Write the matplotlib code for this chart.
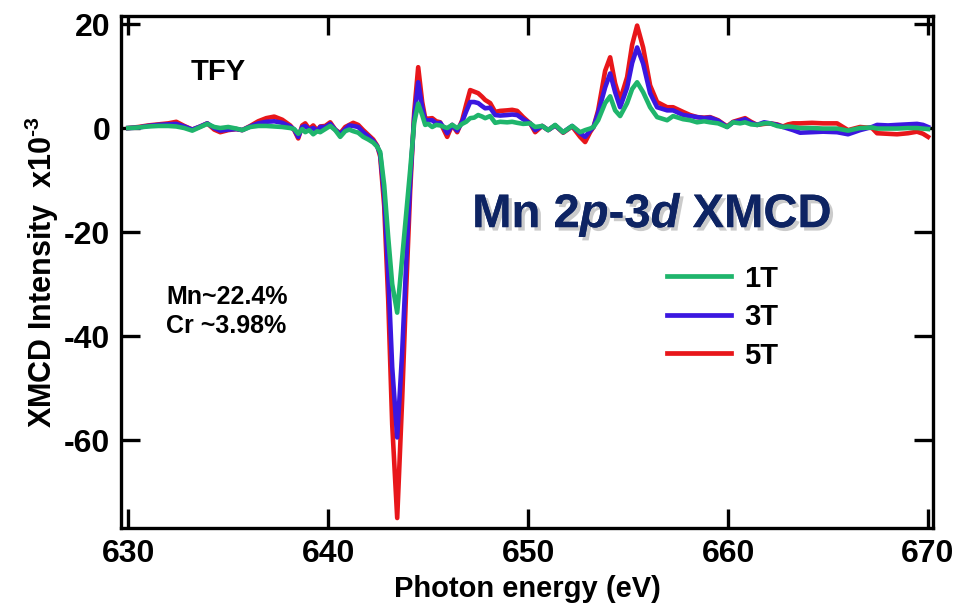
import matplotlib
matplotlib.use("Agg")
import matplotlib.pyplot as plt
import matplotlib.patheffects as pe
import numpy as np

plt.rcParams['font.family'] = ['Liberation Sans', 'DejaVu Sans']
plt.rcParams['font.weight'] = 'bold'
plt.rcParams['axes.unicode_minus'] = False
plt.rcParams['mathtext.fontset'] = 'custom'
plt.rcParams['mathtext.rm'] = 'Liberation Sans:bold'
plt.rcParams['mathtext.bf'] = 'Liberation Sans:bold'
plt.rcParams['mathtext.bfit'] = 'Liberation Sans:italic:bold'
plt.rcParams['mathtext.default'] = 'bf'

# photon energy (eV) and XMCD intensity (x10^-3)
energy = [630.0, 630.5, 631.0, 631.5, 632.0, 632.4, 632.8, 633.2, 633.6, 633.95,
          634.3, 634.6, 635.0, 635.4, 635.7, 636.1, 636.5, 636.9, 637.3, 637.7,
          638.1, 638.3, 638.5, 638.7, 638.85, 639.05, 639.25, 639.45, 639.6, 639.85,
          640.1, 640.35, 640.6, 640.85, 641.05, 641.25, 641.5, 641.75, 642.0, 642.25,
          642.45, 642.6, 642.8, 643.0, 643.2, 643.45, 643.7, 643.9, 644.1, 644.3,
          644.5, 644.7, 644.85, 645.0, 645.2, 645.4, 645.6, 645.8, 645.95, 646.2,
          646.45, 646.7, 646.9, 647.1, 647.3, 647.5, 647.7, 647.85, 648.1, 648.35,
          648.6, 648.95, 649.2, 649.45, 649.75, 650.1, 650.35, 650.7, 651.0, 651.35,
          651.75, 652.2, 652.6, 652.85, 653.1, 653.27, 653.5, 653.85, 654.1, 654.35,
          654.6, 654.95, 655.2, 655.45, 655.75, 656.1, 656.45, 656.95, 657.25, 657.75,
          658.1, 658.45, 658.8, 659.1, 659.5, 659.95, 660.25, 660.6, 660.85, 661.15,
          661.45, 661.8, 662.1, 662.45, 662.75, 663.0, 663.25, 663.6, 664.2, 664.75,
          665.45, 666.0, 666.6, 667.2, 667.45, 668.0, 668.45, 669.0, 669.45, 669.75,
          670.0]

xmcd_1T = [0.0, 0.1, 0.3, 0.4, 0.4, 0.3, 0.0, -0.5, 0.2, 0.8,
           0.2, 0.0, 0.2, -0.1, -0.4, 0.2, 0.4, 0.4, 0.3, 0.2,
           0.0, -0.2, -1.1, -0.2, -0.8, -0.4, -1.2, -0.6, -0.8, -0.2,
           0.4, -0.4, -1.7, -0.6, -0.3, -0.6, -0.9, -1.7, -2.2, -2.8,
           -3.6, -4.6, -11.0, -21.0, -30.0, -35.5, -25.0, -16.5, -8.0, 1.0,
           4.7, 2.5, 0.6, 0.8, 0.2, 0.6, 0.5, 0.2, 0.0, 0.6,
           0.0, 0.8, 1.2, 1.9, 2.0, 2.5, 2.2, 1.9, 2.3, 1.0,
           1.2, 1.1, 1.2, 1.0, 0.8, 0.9, 0.2, 0.4, -0.4, 0.6,
           -0.8, 0.4, -0.8, -0.4, -0.1, 0.2, 1.5, 4.8, 6.1, 3.4,
           2.3, 4.8, 7.5, 8.8, 6.9, 4.0, 2.1, 1.5, 2.3, 1.7,
           1.5, 1.1, 1.3, 1.1, 0.9, 0.2, 1.1, 0.9, 1.1, 0.7,
           0.6, 0.9, 0.9, 0.4, 0.2, 0.3, 0.2, 0.0, 0.0, -0.1,
           -0.1, -0.5, 0.0, 0.1, -0.1, -0.1, -0.1, 0.0, 0.0, -0.1,
           -0.2]

xmcd_3T = [0.0, 0.1, 0.4, 0.6, 0.7, 0.8, 0.3, -0.3, 0.3, 0.9,
           0.0, -0.5, -0.3, -0.2, -0.4, 0.3, 0.9, 1.2, 1.3, 1.0,
           0.3, -0.3, -1.7, 0.2, 0.4, -0.3, 0.0, -0.6, 0.2, 0.2,
           0.8, -0.3, -1.2, -0.2, 0.5, 0.4, 0.2, -0.8, -1.6, -2.5,
           -3.5, -5.0, -13.0, -28.0, -46.0, -59.5, -43.0, -26.0, -10.0, 2.0,
           8.8, 4.0, 1.4, 1.5, 1.5, 0.9, 1.0, 0.0, -1.0, 0.6,
           -0.5, 1.2, 3.2, 5.0, 5.0, 4.8, 4.2, 3.8, 3.9, 2.5,
           2.4, 2.5, 2.6, 2.5, 1.7, 0.9, -0.4, 0.4, -0.4, 0.5,
           -0.8, 0.4, -1.0, -1.7, -0.5, 0.2, 2.9, 7.8, 10.5, 6.9,
           4.0, 7.8, 12.5, 15.5, 12.4, 6.7, 4.0, 3.4, 3.4, 2.5,
           2.3, 2.1, 1.9, 2.0, 1.4, 0.2, 1.1, 1.4, 1.7, 1.0,
           0.6, 1.1, 0.9, 0.6, 0.2, -0.1, -0.4, -0.9, -0.8, -0.7,
           -0.8, -1.2, -0.4, 0.2, 0.6, 0.5, 0.6, 0.7, 0.8, 0.6,
           0.2]

xmcd_5T = [0.0, 0.2, 0.5, 0.7, 0.9, 1.2, 0.4, -0.3, 0.3, 0.9,
           -0.3, -0.8, -0.4, -0.2, -0.4, 0.4, 1.3, 1.9, 2.2, 1.6,
           0.5, -0.4, -2.0, 0.5, 0.9, -0.2, 0.5, -0.5, 0.3, 0.4,
           1.1, -0.3, -1.0, 0.2, 0.6, 1.0, 0.6, -0.4, -1.3, -2.2,
           -3.4, -5.5, -15.0, -33.0, -57.0, -75.0, -52.0, -31.0, -12.0, 3.0,
           11.7, 5.0, 1.9, 1.8, 1.9, 1.3, 1.1, -0.5, -1.7, 0.6,
           -0.8, 1.5, 4.5, 7.3, 7.0, 6.7, 6.0, 5.4, 4.8, 3.1,
           3.3, 3.4, 3.5, 3.3, 2.1, 0.9, -0.8, 0.4, -0.4, 0.5,
           -0.9, 0.3, -1.7, -2.7, -0.8, 0.2, 3.4, 11.0, 13.6, 8.6,
           5.4, 9.8, 16.0, 19.7, 15.5, 8.2, 5.0, 4.0, 4.0, 3.1,
           2.5, 2.1, 2.0, 2.1, 1.5, 0.3, 1.2, 1.6, 1.9, 1.2,
           0.6, 0.8, 0.9, 0.7, 0.3, 0.7, 0.9, 0.9, 1.0, 0.9,
           0.9, -0.4, 0.2, 0.0, -1.0, -1.1, -1.2, -1.0, -0.7, -1.1,
           -1.7]

labels = ['1T', '3T', '5T']
colors = ['#1fb56c', '#3b17e0', '#e8161a']

fig = plt.figure(figsize=(9.55, 6.11), dpi=100)
ax = fig.add_axes([0.127, 0.136, 0.850, 0.837])

l5, = ax.plot(energy, xmcd_5T, color=colors[2], lw=3.3, solid_joinstyle='round')
l3, = ax.plot(energy, xmcd_3T, color=colors[1], lw=3.3, solid_joinstyle='round')
l1, = ax.plot(energy, xmcd_1T, color=colors[0], lw=3.3, solid_joinstyle='round')

ax.set_xlim(629.65, 670.25)
ax.set_ylim(-76.9, 21.45)
ax.set_xticks([630, 640, 650, 660, 670])
ax.set_yticks([20, 0, -20, -40, -60])

for s in ax.spines.values():
    s.set_linewidth(2.4)
ax.tick_params(direction='in', length=14, width=2.4, top=True, right=True,
               labelsize=23, pad=8)
for t in ax.get_xticklabels() + ax.get_yticklabels():
    t.set_fontweight('bold')

ax.set_xlabel('Photon energy (eV)', fontsize=21, fontweight='bold', labelpad=4)
ax.set_ylabel(r'XMCD Intensity  x10$^{\text{-}3}$', fontsize=22, fontweight='bold', labelpad=2)

ax.text(633.1, 10.7, 'TFY', fontsize=21, fontweight='bold', va='center', ha='left')
ax.text(631.9, -32.5, 'Mn~22.4%', fontsize=18, fontweight='bold', va='center', ha='left')
ax.text(631.9, -38.0, 'Cr ~3.98%', fontsize=18, fontweight='bold', va='center', ha='left')

ax.text(647.2, -16.8, r'Mn 2$\mathbfit{p}$-3$\mathbfit{d}$ XMCD', fontsize=34,
        fontweight='bold', color='#0e2463', va='center', ha='left',
        path_effects=[pe.withSimplePatchShadow(offset=(2.5, -2.5),
                                               shadow_rgbFace='#999999', alpha=0.5),
                      pe.Normal()])

leg = ax.legend([l1, l3, l5], labels, loc='upper left',
                bbox_to_anchor=(0.672, 0.515), frameon=False, fontsize=21,
                handlelength=2.2, handletextpad=0.45, labelspacing=0.36,
                borderpad=0, borderaxespad=0)
for line in leg.get_lines():
    line.set_linewidth(3.4)
for t in leg.get_texts():
    t.set_fontweight('bold')

fig.savefig('out.png', dpi=100)
